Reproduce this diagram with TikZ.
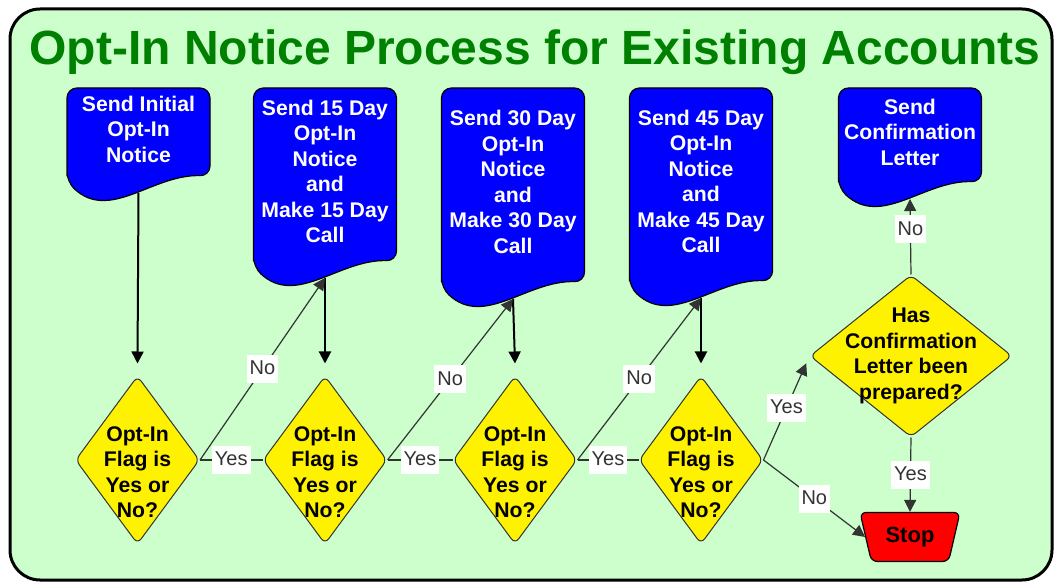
\documentclass[tikz,border=0pt]{standalone}
\usepackage{fontspec}
\setmainfont{Liberation Sans}
\usetikzlibrary{arrows.meta,shapes.geometric}
\definecolor{panelgreen}{HTML}{CCFFCC}
\definecolor{titlegreen}{HTML}{008000}
\definecolor{docblue}{HTML}{0000FF}
\definecolor{linegray}{HTML}{333333}

\begin{document}
\begin{tikzpicture}[x=0.5pt,y=-0.5pt,
    doc/.style={fill=docblue,draw=black,line width=0.6pt,rounded corners=5pt},
    doctext/.style={text=white,font=\bfseries\fontsize{10.6}{12.75}\selectfont,align=center,inner sep=0pt},
    flag/.style={diamond,fill=yellow,draw=black!80,line width=0.5pt,rounded corners=3pt,minimum width=62pt,minimum height=84pt,inner sep=0pt},
    ask/.style={font=\bfseries\fontsize{10.6}{12.75}\selectfont,align=center},
    stopbox/.style={trapezium,shape border rotate=180,trapezium angle=72,trapezium stretches=true,fill=red,draw=black,line width=0.6pt,rounded corners=3pt,minimum width=50pt,minimum height=24.5pt,inner sep=1pt,font=\bfseries\fontsize{11}{13}\selectfont},
    feed/.style={line width=1pt,-{Triangle[length=6pt,width=6pt]}},
    link/.style={draw=linegray,line width=0.6pt},
    linkto/.style={link,-{Triangle[length=6pt,width=6pt]}},
    lbl/.style={fill=white,text=linegray,inner xsep=1.5pt,inner ysep=2pt,text height=8pt,text depth=2pt,font=\fontsize{10}{12}\selectfont}]
    \useasboundingbox (0,0) rectangle (1057,583);
    \draw[fill=panelgreen,line width=1.5pt,rounded corners=15pt] (10,9) rectangle (1052,580);
    \node[text=titlegreen,font=\bfseries\fontsize{24}{28}\selectfont,anchor=base] (head) at (535,65) {Opt-In Notice Process for Existing Accounts};

    \foreach \x/\yb/\n in {138.5/182/send1, 325/267/send2, 513/288/send3, 701/287/send4, 910/188/send5}{
        \filldraw[doc] (\x-71.5,\yb) -- (\x-71.5,88) -- (\x+71.5,88) -- (\x+71.5,\yb-6)
            .. controls (\x+14.3,\yb-8) and (\x-28.6,\yb+40) .. (\x-71.5,\yb) -- cycle;
        \coordinate (\n-b) at (\x,\yb+11);
    }
    \node[doctext] (send1) at (138.5,129) {Send Initial\\Opt-In\\Notice};
    \node[doctext] (send2) at (325,171.5) {Send 15 Day\\Opt-In\\Notice\\and\\Make 15 Day\\Call};
    \node[doctext] (send3) at (513,182) {Send 30 Day\\Opt-In\\Notice\\and\\Make 30 Day\\Call};
    \node[doctext] (send4) at (701,181.5) {Send 45 Day\\Opt-In\\Notice\\and\\Make 45 Day\\Call};
    \node[doctext] (send5) at (910,132) {Send\\Confirmation\\Letter};

    \foreach \x/\n in {137.5/1, 325/2, 515/3, 701/4}
        \node[flag,label={[ask,yshift=-6pt]center:{Opt-In\\Flag is\\Yes or\\No?}}] (flag\n) at (\x,460) {};
    \node[flag,minimum width=101pt,minimum height=81pt,label={[ask]center:{Has\\Confirmation\\Letter been\\prepared?}}] (letter) at (911,356) {};
    \node[stopbox] (stop) at (910,537) {Stop};

    \draw[feed] (send1-b) -- ([yshift=6pt]flag1.north);
    \draw[feed] (send2-b) -- ([yshift=6pt]flag2.north);
    \draw[feed] (send3-b) -- ([yshift=6pt]flag3.north);
    \draw[feed] (send4-b) -- ([yshift=6pt]flag4.north);

    \draw[linkto] (flag1.east) -- node[lbl] {No} (send2-b);
    \draw[linkto] (flag2.east) -- node[lbl] {No} (send3-b);
    \draw[linkto] (flag3.east) -- node[lbl] {No} (send4-b);
    \draw[link] (flag1.east) -- node[lbl] {Yes} (flag2.west);
    \draw[link] (flag2.east) -- node[lbl] {Yes} (flag3.west);
    \draw[link] (flag3.east) -- node[lbl] {Yes} (flag4.west);
    \draw[linkto,shorten >=4pt] (flag4.east) -- node[lbl] {Yes} (letter.west);
    \draw[linkto] (flag4.east) -- node[lbl] {No} (stop.west);
    \draw[linkto] (letter.north) -- node[lbl,pos=0.6] {No} (send5-b);
    \draw[linkto] (letter.south) -- node[lbl] {Yes} (stop.north);
\end{tikzpicture}
\end{document}
